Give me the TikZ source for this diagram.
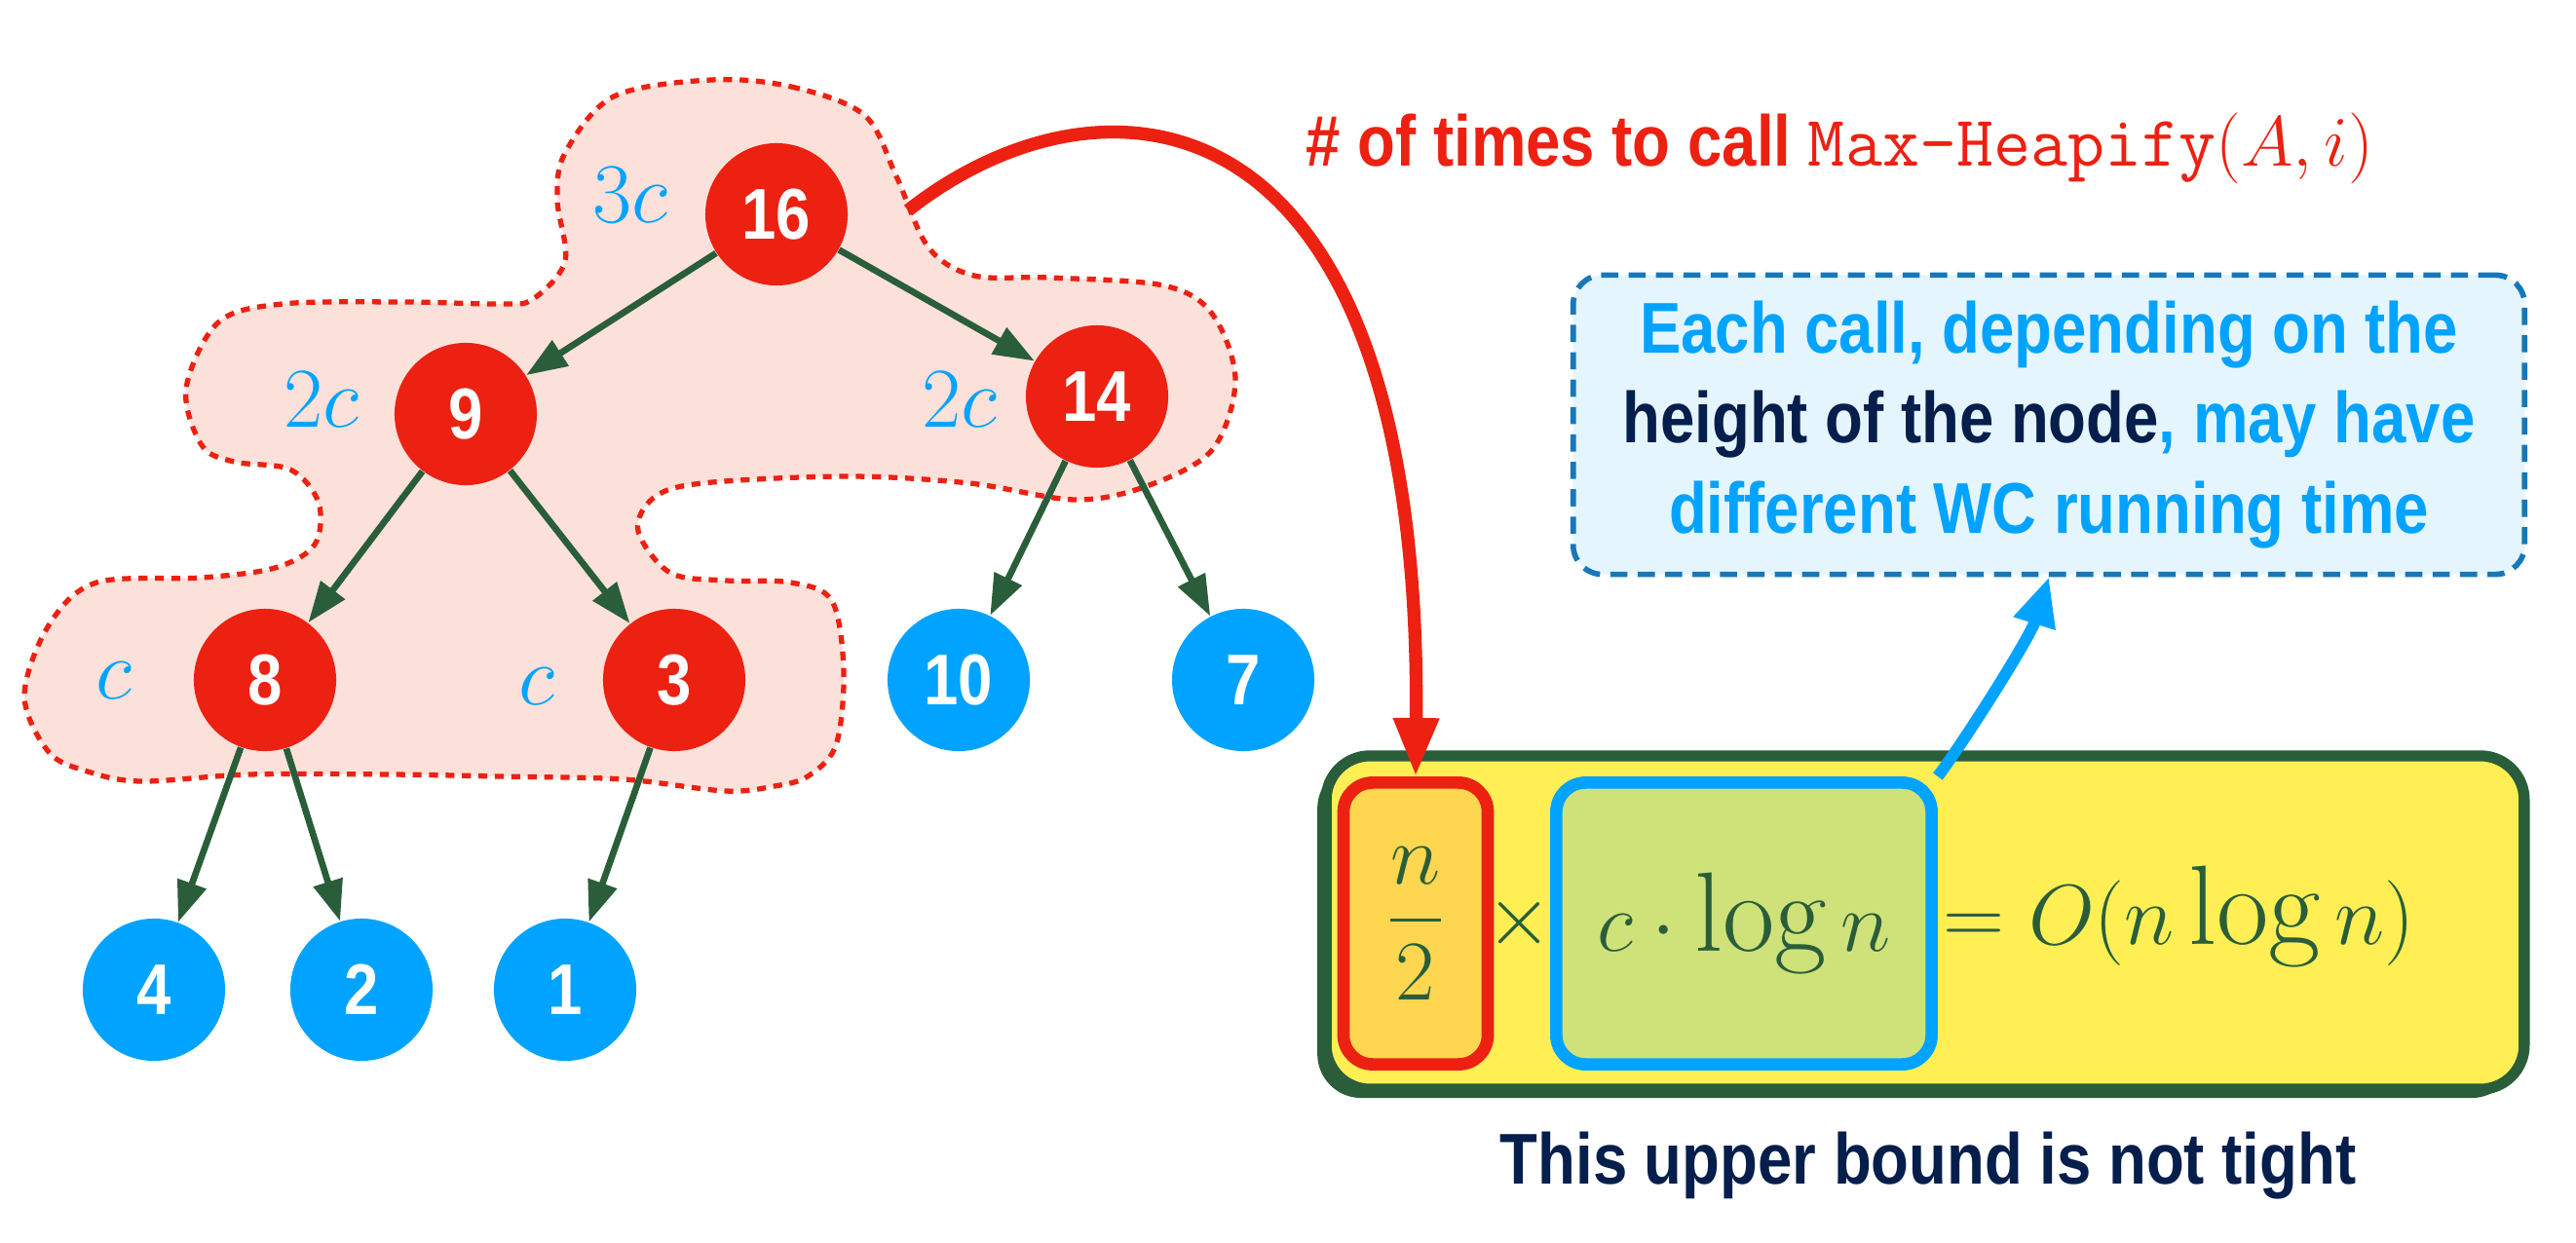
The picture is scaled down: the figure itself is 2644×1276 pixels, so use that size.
\documentclass[tikz,border=0pt]{standalone}
\usepackage{fontspec}
\usepackage{amsmath}
\usepackage{xcolor}
\usetikzlibrary{arrows.meta,shadows}
\newfontfamily\cond{Liberation Sans}[FakeStretch=0.86]

\definecolor{heapred}{RGB}{236,33,18}
\definecolor{heapblue}{RGB}{0,163,255}
\definecolor{edgegreen}{RGB}{42,94,58}
\definecolor{blobfill}{RGB}{252,224,218}
\definecolor{navy}{RGB}{5,30,75}
\definecolor{notefill}{RGB}{229,245,253}
\definecolor{noteline}{RGB}{22,120,186}
\definecolor{boundfill}{RGB}{255,239,85}
\definecolor{halffill}{RGB}{255,214,80}
\definecolor{logfill}{RGB}{207,226,122}

\begin{document}
\begin{tikzpicture}[x=0.01cm, y=-0.01cm,
  heapnode/.style={circle, minimum size=1.46cm, inner sep=0pt, text=white,
    font=\cond\bfseries\fontsize{21}{21}\selectfont},
  rednode/.style={heapnode, fill=heapred},
  bluenode/.style={heapnode, fill=heapblue},
  heapedge/.style={draw=edgegreen, line width=1.9pt, -{Triangle[length=0.42cm, width=0.3cm]}},
  cost/.style={text=heapblue, inner sep=0pt, font=\fontsize{26}{26}\selectfont},
  bigcost/.style={cost, font=\fontsize{35}{35}\selectfont},
  mathtext/.style={text=edgegreen, font=\fontsize{33}{33}\selectfont},
]

\useasboundingbox (0,0) rectangle (2644,1276);

% region of the calls
\draw[heapred, fill=blobfill, line width=1.5pt, dash pattern=on 2.6pt off 2.2pt]
  plot[smooth cycle, tension=0.55] coordinates {
  (730,82) (812,89) (887,118) (920,181) (953,254) (1000,283) (1078,285)
  (1194,293) (1244,322) (1268,390) (1244,462) (1177,499) (1103,513)
  (995,496) (870,489) (721,496) (671,511) (655,545) (688,588) (746,596)
  (812,598) (854,617) (866,690) (858,765) (829,797) (795,807) (744,812)
  (640,800) (513,797) (400,795) (256,795) (145,802) (90,792) (50,772)
  (25,714) (50,642) (99,598) (207,593) (282,583) (323,559) (327,516)
  (298,482) (240,474) (207,457) (191,399) (224,331) (290,312) (415,310)
  (514,312) (547,307) (580,268) (572,205) (580,157) (630,99)};
\coordinate (blobR) at (932,216);

% heap
\node[rednode]  (n16) at (797,220)  {16};
\node[rednode]  (n9)  at (478,425)  {9};
\node[rednode]  (n14) at (1126,407) {14};
\node[rednode]  (n8)  at (272,698)  {8};
\node[rednode]  (n3)  at (692,698)  {3};
\node[bluenode] (n10) at (984,698)  {10};
\node[bluenode] (n7)  at (1276,698) {7};
\node[bluenode] (n4)  at (158,1016) {4};
\node[bluenode] (n2)  at (371,1016) {2};
\node[bluenode] (n1)  at (580,1016) {1};

\draw[heapedge] (n16) -- (n9);
\draw[heapedge] (n16) -- (n14);
\draw[heapedge] (n9)  -- (n8);
\draw[heapedge] (n9)  -- (n3);
\draw[heapedge] (n14) -- (n10);
\draw[heapedge] (n14) -- (n7);
\draw[heapedge] (n8)  -- (n4);
\draw[heapedge] (n8)  -- (n2);
\draw[heapedge] (n3)  -- (n1);

% cost of each call
\node[cost]    (k16) at (647,200) {$3c$};
\node[cost]    (k9)  at (330,410) {$2c$};
\node[cost]    (k14) at (985,410) {$2c$};
\node[bigcost] (k8)  at (117,699) {$c$};
\node[bigcost] (k3)  at (551,705) {$c$};

% title
\node[anchor=base west, inner sep=0pt, text=heapred] (title) at (1340,171)
  {\cond\bfseries\fontsize{21}{21}\selectfont\# of times to call {\normalfont\ttfamily Max-Heapify}$(A,i)$};

% note
\node[draw=noteline, fill=notefill, line width=1.6pt, dash pattern=on 5pt off 3pt,
      rounded corners=0.3cm, minimum width=9.76cm, minimum height=3.07cm,
      align=center, font=\cond\bfseries\fontsize{21}{26.2}\selectfont] (note) at (2103,436)
  {\textcolor{heapblue}{Each call, depending on the}\\
   \textcolor{navy}{height of the node}\textcolor{heapblue}{, may have}\\
   \textcolor{heapblue}{different WC running time}};

% bound
\node[draw=edgegreen, fill=boundfill, line width=3.2pt, rounded corners=0.45cm,
      minimum width=12.29cm, minimum height=3.42cm,
      drop shadow={shadow xshift=-0.09cm, shadow yshift=-0.09cm, fill=edgegreen, opacity=1}]
      (bound) at (1976,947) {};
\node[mathtext, draw=heapred, fill=halffill, line width=3.6pt, rounded corners=0.3cm,
      minimum width=1.48cm, minimum height=2.89cm, inner sep=0pt] (half) at (1453,948) {$\dfrac{n}{2}$};
\node[mathtext, anchor=base, inner sep=0pt] (times) at (1560,969) {$\times$};
\node[mathtext, draw=heapblue, fill=logfill, line width=3.6pt, rounded corners=0.3cm,
      minimum width=3.85cm, minimum height=2.89cm, inner sep=0pt] (logn) at (1790,948) {$c\cdot\log n$};
\node[mathtext, anchor=base west, inner sep=0pt] (rest) at (1994,969) {$=O(n\log n)$};

\node[anchor=base, inner sep=0pt, text=navy, font=\cond\bfseries\fontsize{21}{21}\selectfont]
  (tight) at (1979,1215) {This upper bound is not tight};

% arrows
\draw[heapred, line width=3.8pt, -{Triangle[length=0.6cm, width=0.44cm]}]
  (blobR) .. controls (1130,60) and (1460,80) .. (half.north);
\draw[heapblue, line width=3.4pt, -{Triangle[length=0.5cm, width=0.42cm]}]
  (logn.north east) .. controls (2023,751) and (2084,653) .. (note.south);

\end{tikzpicture}
\end{document}
